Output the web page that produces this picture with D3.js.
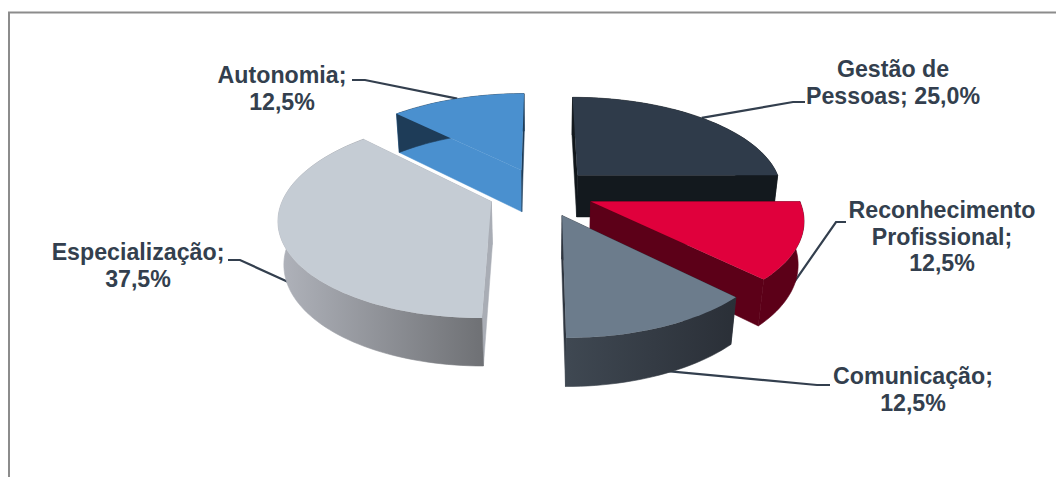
<!DOCTYPE html>
<html>
<head>
<meta charset="utf-8">
<script src="https://cdn.jsdelivr.net/npm/d3@7"></script>
<style>
  html, body { margin: 0; background: #fff; }
  svg { display: block; }
  text { font-family: "Liberation Sans", Arial, sans-serif; font-weight: 700; font-size: 23.2px; fill: #333f4e; }
</style>
</head>
<body>
<svg id="chart" width="1056" height="477"></svg>
<script>
// Exploded 3D pie: share of each competence area.
const categories = ["Gestão de Pessoas", "Reconhecimento Profissional", "Comunicação", "Especialização", "Autonomia"];
const shares = [25.0, 12.5, 12.5, 37.5, 12.5];
const labelLines = [
  ["Gestão de", "Pessoas; 25,0%"],
  ["Reconhecimento", "Profissional;", "12,5%"],
  ["Comunicação;", "12,5%"],
  ["Especialização;", "37,5%"],
  ["Autonomia;", "12,5%"]
];

// Face colours per slice.
const topColors = ["#2f3b4a", "#e0003c", "#6c7c8c", "#c5ccd4", "#4a90cf"];
const startWallColors = ["#10161b", "#5c0018", "#2f3640", "#a9adb5", "#4a90cf"];
const endWallColors = ["#13191e", "#5c0018", "#2f3640", "#a9adb5", "#1e3c58"];
const rimFrom = ["#13191e", "#5c0018", "#3f4852", "#b0b3bb", "#1e3c58"];
const rimTo = ["#13191e", "#5c0018", "#2a2f37", "#6f7175", "#1e3c58"];

// Back-to-front paint order and where each label block sits.
const paintOrder = [4, 0, 1, 3, 2];
const labelCenter = [[893, 77], [942, 218], [913, 384], [138, 260], [282, 83]];
const leaderElbow = [[805, 102], [846, 222], [830, 385], [228, 260], [352, 80]];
const leaderElbowMid = [[793, 102], [836, 222], [817, 385], [240, 260], [365, 80]];

// Perspective camera looking down on the pie.
const cam = { cx: 541, cy: 192, scale: 206, dist: 605, tilt: 0.157, depthStep: 0.022, drop: 56.8 };
const explode = 0.257;

function project(x, y, z) {
  const w = 1 / (1 - cam.tilt * y + cam.depthStep * z);
  return [cam.cx + cam.scale * x * w, cam.cy - cam.dist + cam.dist * w + cam.drop * z * w];
}

const arcs = d3.pie().sort(null).value(d => d)(shares);
const svg = d3.select("#chart");
const defs = svg.append("defs");
const line = d3.line();

// Position on a slice: radius 0 is its apex, angle is clockwise from the far side.
function slicePoint(a, radius, theta, z) {
  const mid = (a.startAngle + a.endAngle) / 2;
  const x = explode * Math.sin(mid) + radius * Math.sin(theta);
  const y = -explode * Math.cos(mid) - radius * Math.cos(theta);
  return project(x, y, z);
}

function rimAngles(a) {
  const steps = Math.max(2, Math.round((a.endAngle - a.startAngle) / 0.03));
  return d3.range(steps + 1).map(i => a.startAngle + (a.endAngle - a.startAngle) * i / steps);
}

svg.append("rect")
  .attr("class", "frame")
  .attr("x", 9).attr("y", 12.5)
  .attr("width", 1100).attr("height", 600)
  .attr("fill", "none").attr("stroke", "#8c8c8c").attr("stroke-width", 2);

// Leader lines run under the slices.
arcs.forEach((a, i) => {
  const mid = (a.startAngle + a.endAngle) / 2;
  const onFront = Math.cos(mid) < 0;
  const anchor = slicePoint(a, 1, mid, onFront ? 0.9 : 0);
  svg.append("path")
    .attr("class", "leader")
    .attr("d", line([anchor, leaderElbowMid[i], leaderElbow[i]]))
    .attr("fill", "none").attr("stroke", "#333f4e").attr("stroke-width", 2.2);
});

paintOrder.forEach(i => {
  const a = arcs[i];
  const g = svg.append("g").attr("class", "slice").attr("data-name", categories[i]);
  const angles = rimAngles(a);
  const gradId = "rim" + i;
  const rimTop = angles.map(t => slicePoint(a, 1, t, 0));
  const rimBottom = angles.map(t => slicePoint(a, 1, t, 1)).reverse();
  const xs = rimTop.map(p => p[0]);

  const grad = defs.append("linearGradient").attr("id", gradId)
    .attr("gradientUnits", "userSpaceOnUse")
    .attr("x1", d3.min(xs)).attr("x2", d3.max(xs)).attr("y1", 0).attr("y2", 0);
  grad.append("stop").attr("offset", 0).attr("stop-color", rimFrom[i]);
  grad.append("stop").attr("offset", 1).attr("stop-color", rimTo[i]);

  const wall = (theta, color) => g.append("path")
    .attr("d", line([
      slicePoint(a, 0, theta, 0), slicePoint(a, 1, theta, 0),
      slicePoint(a, 1, theta, 1), slicePoint(a, 0, theta, 1)
    ]) + "Z")
    .attr("fill", color).attr("stroke", color).attr("stroke-width", 0.5);

  wall(a.startAngle, startWallColors[i]);
  wall(a.endAngle, endWallColors[i]);

  g.append("path")
    .attr("d", line(rimTop.concat(rimBottom)) + "Z")
    .attr("fill", `url(#${gradId})`)
    .attr("stroke", `url(#${gradId})`).attr("stroke-width", 0.6);

  g.append("path")
    .attr("d", line([slicePoint(a, 0, a.startAngle, 0)].concat(rimTop)) + "Z")
    .attr("fill", topColors[i]);
});

// Data labels.
labelLines.forEach((lines, i) => {
  const lineHeight = 26.5;
  const t = svg.append("text")
    .attr("text-anchor", "middle")
    .attr("x", labelCenter[i][0]);
  lines.forEach((s, k) => {
    t.append("tspan")
      .attr("x", labelCenter[i][0])
      .attr("y", labelCenter[i][1] + k * lineHeight)
      .text(s);
  });
});
</script>
</body>
</html>
